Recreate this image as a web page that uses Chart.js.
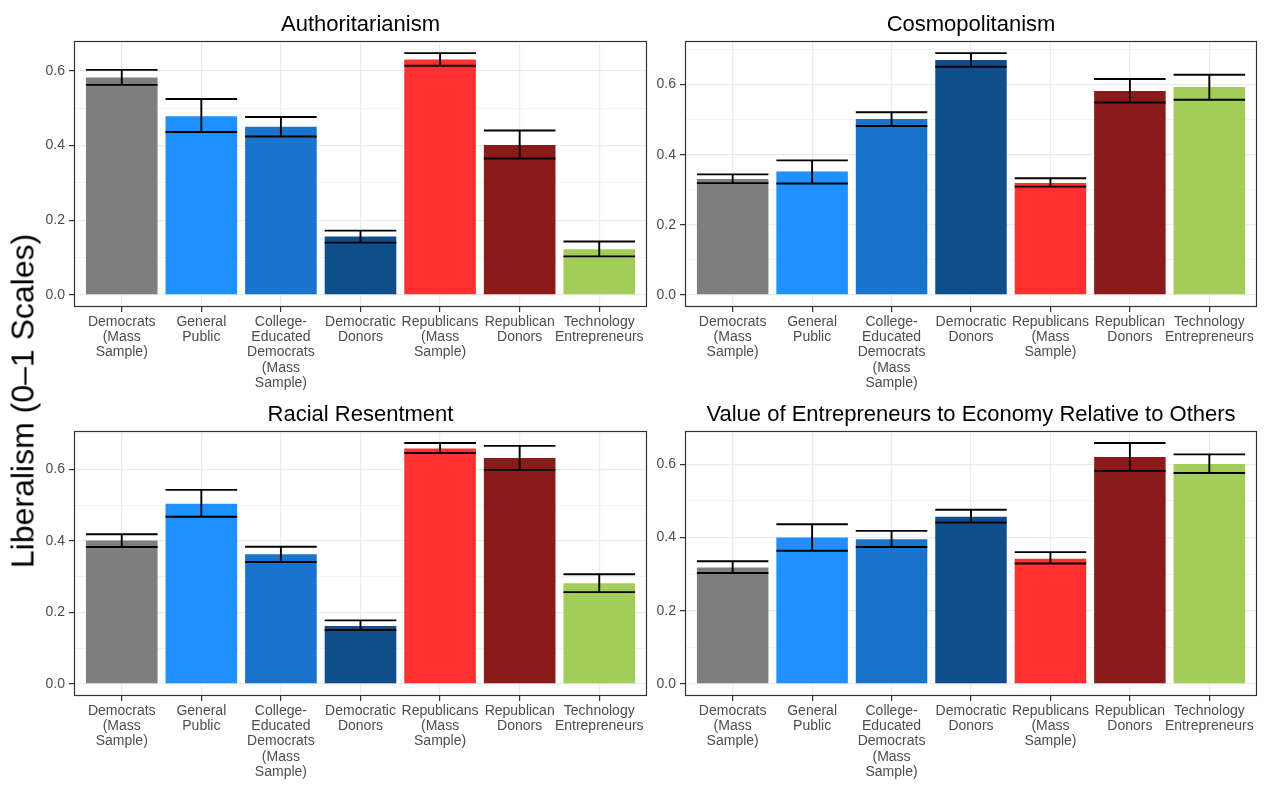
<!DOCTYPE html>
<html lang="en">
<head>
<meta charset="UTF-8">
<title>Liberalism by group</title>
<script src="https://cdn.jsdelivr.net/npm/chart.js"></script>
<style>
  html, body { margin: 0; padding: 0; background: #fff; }
  #wrap { position: relative; width: 1267px; height: 796px; overflow: hidden; }
  .panel { position: absolute; }
  #ylab {
    position: absolute; left: 23px; top: 401px;
    transform: translate(-50%, -50%) rotate(-90deg);
    font: 32px "Liberation Sans", Arial, sans-serif;
    white-space: nowrap; color: #000;
  }
</style>
</head>
<body>
<div id="wrap">
  <div class="panel" style="left:0;top:0;width:650px;height:397px"><canvas id="c1"></canvas></div>
  <div class="panel" style="left:651px;top:0;width:609px;height:397px"><canvas id="c2"></canvas></div>
  <div class="panel" style="left:0;top:390px;width:650px;height:396px"><canvas id="c3"></canvas></div>
  <div class="panel" style="left:651px;top:390px;width:609px;height:396px"><canvas id="c4"></canvas></div>
  <div id="ylab">Liberalism (0–1 Scales)</div>
</div>

<script>
// groups, in plotting order
const categories = [
  ["Democrats", "(Mass", "Sample)"],
  ["General", "Public"],
  ["College-", "Educated", "Democrats", "(Mass", "Sample)"],
  ["Democratic", "Donors"],
  ["Republicans", "(Mass", "Sample)"],
  ["Republican", "Donors"],
  ["Technology", "Entrepreneurs"]
];
const barColors = ["#7F7F7F", "#1E90FF", "#1874CD", "#104E8B", "#FF3030", "#8B1A1A", "#A2CD5A"];

// means and interval ends, one set per panel
const authMean = [0.582, 0.478, 0.450, 0.156, 0.630, 0.401, 0.122];
const authLo   = [0.562, 0.436, 0.424, 0.140, 0.613, 0.365, 0.103];
const authHi   = [0.602, 0.524, 0.476, 0.172, 0.647, 0.440, 0.143];

const cosmoMean = [0.331, 0.352, 0.502, 0.670, 0.319, 0.582, 0.593];
const cosmoLo   = [0.319, 0.318, 0.482, 0.651, 0.309, 0.549, 0.557];
const cosmoHi   = [0.344, 0.384, 0.521, 0.690, 0.333, 0.616, 0.628];

const racialMean = [0.401, 0.504, 0.363, 0.162, 0.659, 0.632, 0.282];
const racialLo   = [0.383, 0.468, 0.341, 0.151, 0.646, 0.599, 0.257];
const racialHi   = [0.419, 0.543, 0.384, 0.178, 0.674, 0.666, 0.307];

const entMean = [0.318, 0.400, 0.395, 0.457, 0.342, 0.620, 0.601];
const entLo   = [0.303, 0.364, 0.374, 0.441, 0.329, 0.582, 0.576];
const entHi   = [0.335, 0.436, 0.418, 0.476, 0.360, 0.658, 0.627];

const FONT = '"Liberation Sans", Arial, sans-serif';
const GRID = '#EBEBEB';
const AXIS = '#333333';

function makePanel(id, title, means, lo, hi, yAxisWidth) {
  const top = Math.max(...hi);

  const extras = {
    id: 'extras',
    afterDatasetsDraw(chart) {
      const { ctx, scales: { x, y } } = chart;
      const meta = chart.getDatasetMeta(0);
      ctx.save();
      ctx.strokeStyle = '#000';
      ctx.lineWidth = 1.9;
      means.forEach((m, i) => {
        const cx = x.getPixelForValue(i);
        const half = meta.data[i].width / 2;
        const yl = y.getPixelForValue(lo[i]);
        const yh = y.getPixelForValue(hi[i]);
        ctx.beginPath();
        ctx.moveTo(cx - half, yh); ctx.lineTo(cx + half, yh);
        ctx.moveTo(cx, yh); ctx.lineTo(cx, yl);
        ctx.moveTo(cx - half, yl); ctx.lineTo(cx + half, yl);
        ctx.stroke();
      });
      ctx.restore();
    },
    afterDraw(chart) {
      const { ctx, chartArea: a } = chart;
      ctx.save();
      // panel frame
      ctx.strokeStyle = AXIS;
      ctx.lineWidth = 1.2;
      ctx.strokeRect(Math.round(a.left) + 0.5, Math.round(a.top) + 0.5,
                     Math.round(a.right - a.left) - 1, Math.round(a.bottom - a.top) - 1);
      // panel title
      ctx.fillStyle = '#000';
      ctx.font = '22px ' + FONT;
      ctx.textAlign = 'center';
      ctx.textBaseline = 'alphabetic';
      ctx.fillText(title, (a.left + a.right) / 2, a.top - 10);
      ctx.restore();
    }
  };

  new Chart(document.getElementById(id), {
    type: 'bar',
    data: {
      datasets: [{
        data: means.map((v, i) => ({ x: i, y: v })),
        backgroundColor: barColors,
        borderWidth: 0,
        categoryPercentage: 0.9,
        barPercentage: 1.0
      }]
    },
    options: {
      responsive: true,
      maintainAspectRatio: false,
      animation: false,
      layout: { padding: { top: 41, right: 3, left: 0, bottom: 0 } },
      plugins: { legend: { display: false }, tooltip: { enabled: false } },
      scales: {
        x: {
          type: 'linear',
          min: -0.6,
          max: categories.length - 0.4,
          offset: false,
          afterFit: s => { s.height = 90; },
          grid: {
            color: GRID, lineWidth: 1.2, offset: false,
            tickColor: AXIS, tickLength: 5, tickWidth: 1.2
          },
          border: { display: false },
          ticks: {
            stepSize: 1,
            includeBounds: false,
            autoSkip: false,
            maxRotation: 0,
            minRotation: 0,
            padding: 2,
            color: '#4D4D4D',
            font: { family: FONT, size: 14, lineHeight: 1.1 },
            callback: v => categories[Math.round(v)]
          }
        },
        y: {
          min: -0.05 * top,
          max: 1.05 * top,
          afterFit: s => { s.width = yAxisWidth; },
          grid: {
            color: GRID,
            lineWidth: c => (Math.round(c.tick.value * 10) % 2 === 0 ? 1.2 : 0.6),
            tickColor: c => (Math.round(c.tick.value * 10) % 2 === 0 ? AXIS : 'rgba(0,0,0,0)'),
            tickLength: 5,
            tickWidth: 1.2
          },
          border: { display: false },
          ticks: {
            stepSize: 0.1,
            includeBounds: false,
            padding: 4,
            color: '#4D4D4D',
            font: { family: FONT, size: 14 },
            callback: v => (Math.round(v * 10) % 2 === 0 ? v.toFixed(1) : '')
          }
        }
      }
    },
    plugins: [extras]
  });
}

makePanel('c1', 'Authoritarianism', authMean, authLo, authHi, 74);
makePanel('c2', 'Cosmopolitanism', cosmoMean, cosmoLo, cosmoHi, 34);
makePanel('c3', 'Racial Resentment', racialMean, racialLo, racialHi, 74);
makePanel('c4', 'Value of Entrepreneurs to Economy Relative to Others', entMean, entLo, entHi, 34);
</script>
</body>
</html>
